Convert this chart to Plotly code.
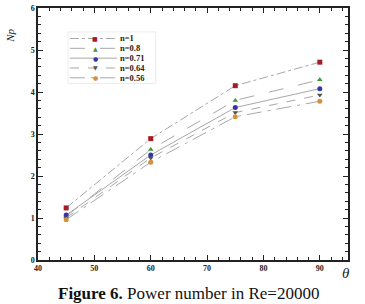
import plotly.graph_objects as go

theta = [45, 60, 75, 90]
series_names = ["n=1", "n=0.8", "n=0.71", "n=0.64", "n=0.56"]
np_n1 = [1.24, 2.89, 4.15, 4.71]
np_n08 = [1.04, 2.63, 3.80, 4.29]
np_n071 = [1.07, 2.50, 3.63, 4.08]
np_n064 = [1.00, 2.43, 3.51, 3.93]
np_n056 = [0.96, 2.33, 3.41, 3.78]

values = [np_n1, np_n08, np_n071, np_n064, np_n056]
colors = ["#a51d24", "#3c9a3c", "#3535a5", "#555555", "#d4913a"]
symbols = ["square", "triangle-up", "circle", "triangle-down", "circle"]
glyphs = ["■", "▲", "●", "▼", "●"]
dashes = ["dashdot", "longdash", "solid", "dash", "longdashdot"]
line_color = "#a8a8a8"

fig = go.Figure()
for name, vals, c, s, d in zip(series_names, values, colors, symbols, dashes):
    fig.add_trace(go.Scatter(
        x=theta, y=vals, name=name, mode="lines+markers",
        line=dict(color=line_color, width=1, dash=d),
        marker=dict(color=c, symbol=s, size=5),
        showlegend=False,
    ))

axis_common = dict(
    showgrid=False, zeroline=False, showline=True, linecolor="#222", linewidth=1.5,
    mirror="ticks", ticks="inside", ticklen=5, tickwidth=1, tickcolor="#222",
    tickfont=dict(family="Liberation Serif", size=8, color="#222", weight="bold"),
)
fig.update_xaxes(range=[40, 95], dtick=10, tick0=40,
                 minor=dict(ticks="inside", ticklen=3, dtick=2, tickcolor="#222"),
                 **axis_common)
fig.update_yaxes(range=[0, 6], dtick=1, tick0=0,
                 minor=dict(ticks="inside", ticklen=3, dtick=0.2, tickcolor="#222"),
                 **axis_common)

# manual compact legend
leg_y = [0.879, 0.840, 0.801, 0.762, 0.723]
fig.add_shape(type="rect", xref="paper", yref="paper", x0=0.097, x1=0.38,
              y0=0.70, y1=0.905, line=dict(color="#ececec", width=1), fillcolor="rgba(0,0,0,0)")
for name, c, g, d, yy in zip(series_names, colors, glyphs, dashes, leg_y):
    fig.add_shape(type="line", xref="paper", yref="paper", x0=0.103, x1=0.255,
                  y0=yy, y1=yy, line=dict(color=line_color, width=1, dash=d))
    fig.add_annotation(text=g, xref="paper", yref="paper", x=0.184, y=yy,
                       xanchor="center", yanchor="middle", showarrow=False, borderpad=0,
                       font=dict(family="DejaVu Sans", size=6, color=c))
    fig.add_annotation(text="<b>" + name + "</b>", xref="paper", yref="paper", x=0.262, y=yy,
                       xanchor="left", yanchor="middle", showarrow=False, borderpad=0,
                       font=dict(family="Liberation Serif", size=8.5, color="#222"))

fig.add_annotation(text="<i>Np</i>", xref="paper", yref="paper", x=-0.09, y=0.89,
                   xanchor="center", yanchor="middle",
                   textangle=-90, showarrow=False,
                   font=dict(family="Liberation Serif", size=11, color="#222"))
fig.add_annotation(text="<i>θ</i>", xref="paper", yref="paper", x=0.995, y=-0.05,
                   xanchor="center", yanchor="middle", showarrow=False,
                   font=dict(family="Liberation Serif", size=15, color="#222"))
fig.add_annotation(text="<b>Figure 6.</b> Power number in Re=20000",
                   xref="paper", yref="paper", x=0.484, y=-0.133,
                   xanchor="center", yanchor="middle", showarrow=False,
                   font=dict(family="Liberation Serif", size=17, color="#111"))

fig.update_layout(
    width=365, height=304,
    margin=dict(l=38, r=17, t=4, b=44),
    paper_bgcolor="white", plot_bgcolor="white",
    showlegend=False,
)

fig.write_html("out.html")
